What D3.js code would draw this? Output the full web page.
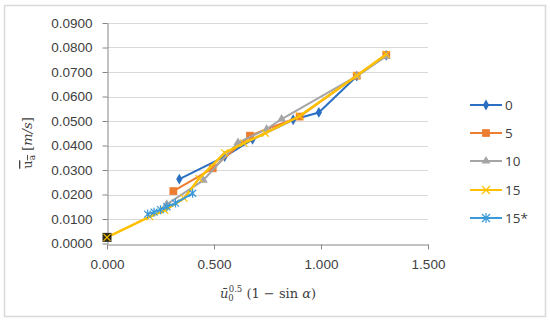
<!DOCTYPE html>
<html lang="en">
<head>
<meta charset="UTF-8">
<title>u_a chart</title>
<script src="https://d3js.org/d3.v7.min.js"></script>
<style>
  body { margin: 0; background: #fff; }
  svg { display: block; font-family: "Open Sans", "Liberation Sans", sans-serif; }
  .grid line { stroke: #d9d9d9; stroke-width: 1; }
  .axis path, .axis line { stroke: #868686; }
  .axis text { font-size: 13.5px; fill: #404040; }
</style>
</head>
<body>
<script>
// series names and values
const seriesNames = ["0", "5", "10", "15", "15*"];
const s0  = [[0.338, 0.0263], [0.55, 0.0355], [0.68, 0.0425], [0.87, 0.0505], [0.99, 0.0535], [1.167, 0.0683], [1.305, 0.0768]];
const s5  = [[0.31, 0.0214], [0.494, 0.0307], [0.668, 0.0440], [0.90, 0.0518], [1.167, 0.0685], [1.305, 0.0770]];
const s10 = [[0.279, 0.0160], [0.45, 0.0258], [0.612, 0.0412], [0.746, 0.0467], [0.816, 0.0508], [1.167, 0.0683], [1.305, 0.0765]];
const s15 = [[0.0, 0.0025], [0.20, 0.0110], [0.27, 0.0135], [0.36, 0.0185], [0.43, 0.0265], [0.55, 0.0370], [0.64, 0.0410], [0.74, 0.0450], [0.90, 0.0520], [1.167, 0.0685], [1.305, 0.0772]];
const s15b = [[0.19, 0.0120], [0.22, 0.0128], [0.25, 0.0138], [0.28, 0.0150], [0.32, 0.0165], [0.40, 0.0205]];
const originPoint = [[0.0, 0.0025]];
const xTicks = [0, 0.5, 1.0, 1.5];
const yTicks = [0, 0.01, 0.02, 0.03, 0.04, 0.05, 0.06, 0.07, 0.08, 0.09];

const colors = ["#2b6fc2", "#ed7d31", "#a5a5a5", "#ffc000", "#3a9ad9"];
const symbols = [d3.symbolDiamond, d3.symbolSquare, d3.symbolTriangle, "x", "star"];
const allSeries = [s0, s5, s10, s15, s15b];

const W = 550, H = 323;
const svg = d3.select("body").append("svg").attr("width", W).attr("height", H);

// outer chart border
svg.append("rect")
   .attr("x", 4.5).attr("y", 5.5).attr("width", 541).attr("height", 311)
   .attr("fill", "#fff").attr("stroke", "#d9d9d9").attr("stroke-width", 1.5);

const x = d3.scaleLinear().domain([0, 1.5]).range([107, 428]);
const y = d3.scaleLinear().domain([0, 0.09]).range([243.5, 23]);

/* gridlines */
svg.append("g").attr("class", "grid")
   .selectAll("line").data(yTicks.slice(1)).enter().append("line")
   .attr("x1", x(0)).attr("x2", x(1.5))
   .attr("y1", d => Math.round(y(d)) + 0.5).attr("y2", d => Math.round(y(d)) + 0.5);

/* axes */
const yAxis = d3.axisLeft(y).tickValues(yTicks).tickFormat(d3.format(".4f")).tickSize(5).tickSizeOuter(0).tickPadding(10);
svg.append("g").attr("class", "axis").attr("transform", `translate(${x(0) + 0.5},0)`).call(yAxis);

const xAxis = d3.axisBottom(x).tickValues(xTicks).tickFormat(d3.format(".3f")).tickSize(5).tickSizeOuter(0).tickPadding(10);
svg.append("g").attr("class", "axis").attr("transform", `translate(0,${Math.round(y(0)) + 0.5})`).call(xAxis);

/* lines */
const line = d3.line().x(d => x(d[0])).y(d => y(d[1]));

function drawMarker(g, k, px, py, big) {
  const c = colors[k];
  const s = symbols[k];
  if (s === "x" || s === "star") {
    const r = big ? 4 : 3.5;
    let p = `M${px - r},${py - r}L${px + r},${py + r}M${px - r},${py + r}L${px + r},${py - r}`;
    if (s === "star") p += `M${px},${py - r - 1}L${px},${py + r + 1}`;
    g.append("path").attr("d", p).attr("stroke", c).attr("stroke-width", 1.2).attr("fill", "none");
  } else {
    const size = s === d3.symbolSquare ? 60 : 34;
    g.append("path")
     .attr("d", d3.symbol().type(s).size(size)())
     .attr("transform", `translate(${px},${py})`)
     .attr("fill", c);
  }
}

allSeries.forEach((data, k) => {
  const g = svg.append("g");
  g.append("path").datum(data).attr("d", line)
   .attr("fill", "none").attr("stroke", colors[k])
   .attr("stroke-width", k === 3 ? 2.5 : 2).attr("stroke-linejoin", "round");
  data.forEach(d => drawMarker(g, k, x(d[0]), y(d[1]), false));
});

/* marker at the origin point: dark square with yellow cross */
originPoint.forEach(d => {
  const px = x(d[0]), py = y(d[1]);
  svg.append("rect").attr("x", px - 4.5).attr("y", py - 4.5).attr("width", 9).attr("height", 9).attr("fill", "#2b2b1a");
  drawMarker(svg, 3, px, py, false);
});

/* legend */
const legendY = [105, 133, 161, 190, 218];
seriesNames.forEach((name, k) => {
  const g = svg.append("g");
  g.append("line").attr("x1", 470).attr("x2", 502).attr("y1", legendY[k]).attr("y2", legendY[k])
   .attr("stroke", colors[k]).attr("stroke-width", 2);
  drawMarker(g, k, 486, legendY[k], true);
  g.append("text").attr("x", 505).attr("y", legendY[k] + 5)
   .attr("font-size", 13.5).attr("fill", "#404040").text(name);
});

/* axis titles */
const yt = svg.append("text")
   .attr("transform", "translate(32,143) rotate(-90)")
   .attr("text-anchor", "middle")
   .attr("font-family", "DejaVu Serif, serif").attr("font-size", 13).attr("fill", "#404040");
yt.append("tspan").attr("text-decoration", "overline").text("u");
yt.append("tspan").attr("font-size", 9).attr("dy", 3).attr("text-decoration", "overline").text("a");
yt.append("tspan").attr("dy", -3).text(" [");
yt.append("tspan").attr("font-style", "italic").text("m/s");
yt.append("tspan").text("]");

const xt = svg.append("text")
   .attr("x", 268).attr("y", 298)
   .attr("text-anchor", "middle")
   .attr("font-family", "DejaVu Serif, serif").attr("font-size", 13).attr("fill", "#404040");
xt.append("tspan").attr("font-style", "italic").text("\u016B");
xt.append("tspan").attr("font-size", 8.5).attr("dy", 3).text("0");
xt.append("tspan").attr("font-size", 8.5).attr("dy", -9).attr("dx", -5).text("0.5");
xt.append("tspan").attr("dy", 6).text(" (1 \u2212 sin ");
xt.append("tspan").attr("font-style", "italic").text("\u03B1");
xt.append("tspan").text(")");
</script>
</body>
</html>
